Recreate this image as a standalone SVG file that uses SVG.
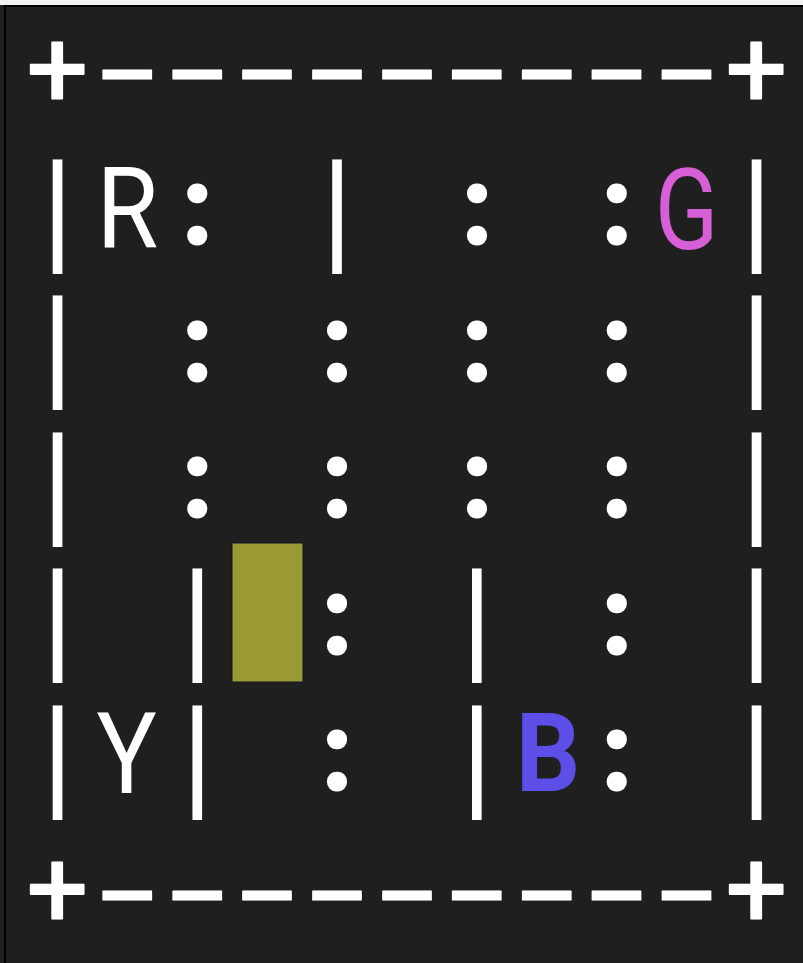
<svg xmlns="http://www.w3.org/2000/svg" width="803" height="963" viewBox="0 0 803 963">
<style>
.t{fill:#fff;font-family:Roboto,"Noto Sans",sans-serif;text-anchor:middle;stroke:#fff;stroke-linejoin:round}
.plus{font-size:108px;stroke-width:2}
.dash{font-size:120px;stroke-width:1}
.bar{font-family:"DejaVu Sans Mono",monospace;font-size:114px;stroke-width:0}
.col{font-size:99px;stroke-width:9}
.let{font-size:114px;stroke:none}
</style>
<rect width="803" height="963" fill="#1f1f1f"/>
<rect x="0" y="0" width="803" height="5" fill="#f2f2f2"/>
<rect x="4" y="5" width="799" height="2" fill="#000"/>
<rect x="4" y="5" width="2" height="958" fill="#000"/>

<g id="border-top">
<text class="t plus" x="57.5" y="105.8">+</text>
<text class="t dash" transform="translate(127.4 0) scale(1.68 1)" x="0" y="111.4">-</text>
<text class="t dash" transform="translate(197.3 0) scale(1.68 1)" x="0" y="111.4">-</text>
<text class="t dash" transform="translate(267.2 0) scale(1.68 1)" x="0" y="111.4">-</text>
<text class="t dash" transform="translate(337.1 0) scale(1.68 1)" x="0" y="111.4">-</text>
<text class="t dash" transform="translate(407 0) scale(1.68 1)" x="0" y="111.4">-</text>
<text class="t dash" transform="translate(476.9 0) scale(1.68 1)" x="0" y="111.4">-</text>
<text class="t dash" transform="translate(546.8 0) scale(1.68 1)" x="0" y="111.4">-</text>
<text class="t dash" transform="translate(616.7 0) scale(1.68 1)" x="0" y="111.4">-</text>
<text class="t dash" transform="translate(686.6 0) scale(1.68 1)" x="0" y="111.4">-</text>
<text class="t plus" x="756.5" y="105.8">+</text>
</g>

<g id="row1">
<text class="t bar" x="57.5" y="246.5">|</text>
<g id="R"><text class="t let" transform="translate(127.5 248) scale(0.88 1)" x="0" y="0">R</text></g>
<text class="t col" x="197.3" y="240">:</text>
<text class="t bar" x="337.1" y="246.5">|</text>
<text class="t col" x="476.9" y="240">:</text>
<text class="t col" x="616.7" y="240">:</text>
<g id="G"><text class="t let" transform="translate(686.7 249) scale(0.82 1)" x="0" y="0" style="fill:#d75fd7">G</text></g>
<text class="t bar" x="756.5" y="246.5">|</text>
</g>

<g id="row2">
<text class="t bar" x="57.5" y="383">|</text>
<text class="t col" x="197.3" y="376.5">:</text>
<text class="t col" x="337.1" y="376.5">:</text>
<text class="t col" x="476.9" y="376.5">:</text>
<text class="t col" x="616.7" y="376.5">:</text>
<text class="t bar" x="756.5" y="383">|</text>
</g>

<g id="row3">
<text class="t bar" x="57.5" y="519.5">|</text>
<text class="t col" x="197.3" y="513">:</text>
<text class="t col" x="337.1" y="513">:</text>
<text class="t col" x="476.9" y="513">:</text>
<text class="t col" x="616.7" y="513">:</text>
<text class="t bar" x="756.5" y="519.5">|</text>
</g>

<g id="row4">
<text class="t bar" x="57.5" y="656">|</text>
<text class="t bar" x="197.3" y="656">|</text>
<g id="taxi"><rect x="232" y="543" width="71" height="139" fill="#9a9a33" stroke="#15152a" stroke-width="1"/></g>
<text class="t col" x="337.1" y="649.5">:</text>
<text class="t bar" x="476.9" y="656">|</text>
<text class="t col" x="616.7" y="649.5">:</text>
<text class="t bar" x="756.5" y="656">|</text>
</g>

<g id="row5">
<text class="t bar" x="57.5" y="792.5">|</text>
<g id="Y"><text class="t let" transform="translate(126.5 793) scale(0.88 1)" x="0" y="0">Y</text></g>
<text class="t bar" x="197.3" y="792.5">|</text>
<text class="t col" x="337.1" y="786">:</text>
<text class="t bar" x="476.9" y="792.5">|</text>
<g id="B"><text class="t let" transform="translate(548 791) scale(0.92 1)" x="0" y="0" style="fill:#5c4ee6;font-size:110px;font-weight:700">B</text></g>
<text class="t col" x="616.7" y="786">:</text>
<text class="t bar" x="756.5" y="792.5">|</text>
</g>

<g id="border-bottom">
<text class="t plus" x="57.5" y="926.3">+</text>
<text class="t dash" transform="translate(127.4 0) scale(1.68 1)" x="0" y="931.9">-</text>
<text class="t dash" transform="translate(197.3 0) scale(1.68 1)" x="0" y="931.9">-</text>
<text class="t dash" transform="translate(267.2 0) scale(1.68 1)" x="0" y="931.9">-</text>
<text class="t dash" transform="translate(337.1 0) scale(1.68 1)" x="0" y="931.9">-</text>
<text class="t dash" transform="translate(407 0) scale(1.68 1)" x="0" y="931.9">-</text>
<text class="t dash" transform="translate(476.9 0) scale(1.68 1)" x="0" y="931.9">-</text>
<text class="t dash" transform="translate(546.8 0) scale(1.68 1)" x="0" y="931.9">-</text>
<text class="t dash" transform="translate(616.7 0) scale(1.68 1)" x="0" y="931.9">-</text>
<text class="t dash" transform="translate(686.6 0) scale(1.68 1)" x="0" y="931.9">-</text>
<text class="t plus" x="756.5" y="926.3">+</text>
</g>
</svg>
